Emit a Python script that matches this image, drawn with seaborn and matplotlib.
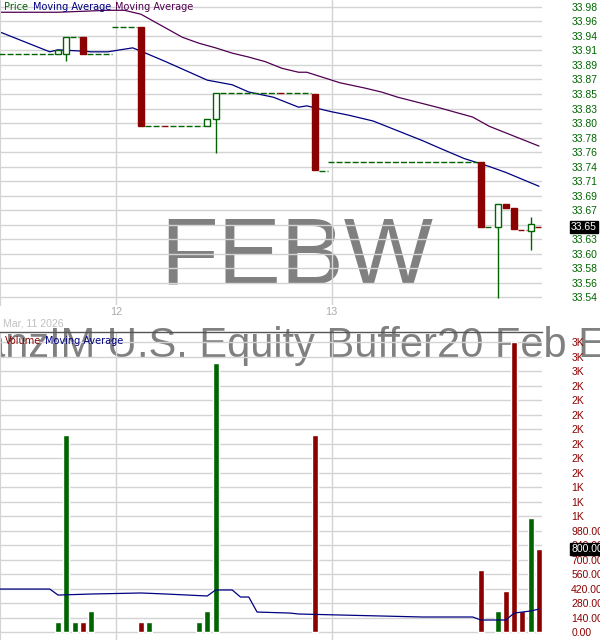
import numpy as np
import matplotlib
matplotlib.use('Agg')
import matplotlib.pyplot as plt
import matplotlib.transforms as mtransforms
from matplotlib.patches import Rectangle
import seaborn as sns

# 15分足のスロット番号 (0 = 3/11 表示左端)
day_ticks = [14, 40]
day_labels = ['12', '13']

# ローソク足
candle_slot = [7, 8, 10, 17, 25, 26, 38, 58, 60, 61, 62, 64]
candle_open = [33.909, 33.909, 33.934, 33.950, 33.799, 33.810, 33.848, 33.745, 33.646, 33.681, 33.675, 33.640]
candle_high = [33.915, 33.934, 33.934, 33.950, 33.810, 33.850, 33.848, 33.745, 33.681, 33.681, 33.675, 33.661]
candle_low = [33.909, 33.898, 33.909, 33.799, 33.799, 33.758, 33.733, 33.646, 33.539, 33.675, 33.643, 33.611]
candle_close = [33.915, 33.934, 33.909, 33.799, 33.810, 33.850, 33.733, 33.646, 33.681, 33.675, 33.643, 33.651]

# 値動きなしの区間 (破線)
flat_start = [0, 9, 11, 14, 18, 20, 21, 27, 34, 35, 39, 40, 59, 63, 65]
flat_end = [6, 9, 13, 16, 19, 20, 24, 33, 34, 37, 39, 57, 59, 63, 65]
flat_price = [33.909, 33.934, 33.909, 33.950, 33.800, 33.800, 33.800, 33.850, 33.850, 33.850,
              33.731, 33.745, 33.646, 33.642, 33.646]
flat_color = ['g', 'g', 'g', 'g', 'g', 'r', 'g', 'g', 'r', 'g', 'g', 'g', 'g', 'r', 'r']

# 移動平均 (価格)
ma_fast_slot = [0, 6, 7, 10, 11, 13, 16, 17, 20, 25, 28, 30, 33, 36, 37, 40, 42, 45, 48, 51, 53, 56, 58, 59, 61, 65]
ma_fast_value = [33.942, 33.912, 33.915, 33.913, 33.912, 33.912, 33.918, 33.913, 33.897, 33.869, 33.862,
                 33.851, 33.843, 33.828, 33.830, 33.821, 33.816, 33.807, 33.792, 33.777, 33.766,
                 33.750, 33.742, 33.738, 33.729, 33.708]
ma_slow_slot = [0, 7, 13, 15, 17, 18, 20, 22, 24, 26, 28, 30, 32, 34, 36, 37, 40, 41, 44, 46, 48, 53, 57, 59, 62, 65]
ma_slow_value = [33.972, 33.972, 33.975, 33.975, 33.969, 33.962, 33.948, 33.934, 33.925, 33.918, 33.910,
                 33.904, 33.897, 33.887, 33.881, 33.881, 33.869, 33.865, 33.857, 33.851, 33.843,
                 33.827, 33.813, 33.799, 33.784, 33.769]

# 出来高
vol_slot = [7, 8, 9, 10, 11, 17, 18, 24, 25, 26, 38, 58, 60, 61, 62, 63, 64, 65]
vol_value = [100, 1900, 100, 100, 200, 100, 100, 100, 200, 2600, 1900, 600, 200, 400, 2800, 200, 1100, 800]
vol_color = ['g', 'g', 'g', 'r', 'g', 'r', 'g', 'g', 'g', 'g', 'r', 'r', 'g', 'r', 'r', 'r', 'g', 'r']

vol_ma_slot = [0, 6, 7, 11, 17, 20, 25, 26, 28, 29, 30, 31, 35, 36, 51, 57, 58, 61, 62, 64, 65]
vol_ma_value = [415, 415, 357, 367, 377, 367, 348, 406, 406, 338, 338, 193, 183, 174, 145, 145, 116, 116,
                183, 203, 222]

price_tick_labels = ['33.54', '33.56', '33.58', '33.60', '33.63', '33.65', '33.67', '33.69', '33.71',
                     '33.74', '33.76', '33.78', '33.80', '33.83', '33.85', '33.87', '33.89', '33.91',
                     '33.94', '33.96', '33.98']
vol_tick_labels = ['0.00', '140.00', '280.00', '420.00', '560.00', '700.00', '840.00', '980.00',
                   '1K', '1K', '1K', '2K', '2K', '2K', '2K', '2K', '2K', '2K', '3K', '3K', '3K']

last_price, last_price_label = 33.646, '33.65'
last_vol, last_vol_label = 800, '800.00'

GREEN = '#006400'
RED = '#8b0000'
NAVY = '#000080'
PURPLE = '#500050'
GRID = '#d3d3d3'
cmap = {'g': GREEN, 'r': RED}

sns.set_style('white')
plt.rcParams['font.family'] = ['Liberation Sans', 'DejaVu Sans']

W, H = 600, 640
fig = plt.figure(figsize=(6, 6.4), dpi=100)
fig.patch.set_facecolor('white')
ax_p = fig.add_axes([0, 1 - 305 / H, 542 / W, 305 / H])
ax_v = fig.add_axes([0, 0, 542 / W, 308 / H])

xlim = (0, 65.36)

# ---- 価格パネル ----
ax_p.set_facecolor('none')
for s, e, p, c in zip(flat_start, flat_end, flat_price, flat_color):
    ax_p.hlines(p, s - 0.5, e + 0.5, colors=cmap[c], lw=1, linestyles=(0, (4.3, 1.5)), zorder=3)

for s, o, h, l, c in zip(candle_slot, candle_open, candle_high, candle_low, candle_close):
    if c >= o:
        ax_p.vlines(s, l, h, colors=GREEN, lw=1, zorder=3)
        ax_p.add_patch(Rectangle((s - 0.36, o), 0.72, c - o, facecolor='white',
                                 edgecolor=GREEN, lw=1, zorder=4))
    else:
        ax_p.vlines(s, l, h, colors=RED, lw=1, zorder=3)
        ax_p.add_patch(Rectangle((s - 0.36, c), 0.72, o - c, facecolor=RED,
                                 edgecolor=RED, lw=1, zorder=4))

sns.lineplot(x=ma_slow_slot, y=ma_slow_value, ax=ax_p, color=PURPLE, lw=0.9, zorder=2)
sns.lineplot(x=ma_fast_slot, y=ma_fast_value, ax=ax_p, color=NAVY, lw=0.9, zorder=2)

price_ticks = np.linspace(33.54, 33.98, len(price_tick_labels))
ax_p.set_ylim(33.5279, 33.9906)
ax_p.set_xlim(*xlim)
ax_p.yaxis.tick_right()
ax_p.set_yticks(price_ticks)
ax_p.set_yticklabels(price_tick_labels)
ax_p.set_xticks(day_ticks)
ax_p.set_xticklabels(day_labels)
ax_p.tick_params(axis='y', length=0, pad=21, labelsize=7.5, labelcolor=GREEN)
ax_p.tick_params(axis='x', length=0, pad=1.5, labelsize=7.8, labelcolor='#aaaaaa')
ax_p.grid(True, color=GRID, lw=1)
ax_p.set_axisbelow(True)
for side in ['top', 'right', 'bottom']:
    ax_p.spines[side].set_visible(False)
ax_p.spines['left'].set_color(GRID)
ax_p.set_xlabel('')
ax_p.set_ylabel('')

tr_p = mtransforms.blended_transform_factory(ax_p.transAxes, ax_p.transData)
ax_p.text(571 / 542, last_price, last_price_label, transform=tr_p, ha='left', va='center',
          fontsize=7.5, color='white', clip_on=False, zorder=10,
          bbox=dict(boxstyle='square,pad=0.12', facecolor='black', edgecolor='black'))

# ---- 出来高パネル ----
ax_v.set_facecolor('none')
ax_v.bar(vol_slot, vol_value, width=0.72, color=[cmap[c] for c in vol_color], zorder=3)
sns.lineplot(x=vol_ma_slot, y=vol_ma_value, ax=ax_v, color=NAVY, lw=0.9, zorder=4)
ax_v.set_ylim(-77, 2897)
ax_v.set_xlim(*xlim)
ax_v.yaxis.tick_right()
ax_v.set_yticks(np.arange(len(vol_tick_labels)) * 140)
ax_v.set_yticklabels(vol_tick_labels)
ax_v.set_xticks(day_ticks)
ax_v.set_xticklabels([])
ax_v.tick_params(axis='y', length=0, pad=21, labelsize=7.5, labelcolor=RED)
ax_v.tick_params(axis='x', length=0)
ax_v.grid(True, color=GRID, lw=1)
ax_v.set_axisbelow(True)
for side in ['right', 'bottom']:
    ax_v.spines[side].set_visible(False)
ax_v.spines['top'].set_color('#555555')
ax_v.spines['top'].set_linewidth(1)
ax_v.spines['left'].set_color(GRID)
ax_v.set_xlabel('')
ax_v.set_ylabel('')

tr_v = mtransforms.blended_transform_factory(ax_v.transAxes, ax_v.transData)
ax_v.text(571 / 542, last_vol, last_vol_label, transform=tr_v, ha='left', va='center',
          fontsize=7.5, color='white', clip_on=False, zorder=10,
          bbox=dict(boxstyle='square,pad=0.12', facecolor='black', edgecolor='black'))

# ---- 透かし・見出し ----
fig.text(297 / W, 1 - 284 / H, 'FEBW', fontsize=68, color='#808080', ha='center',
         va='baseline', zorder=-1)
fig.text(292 / W, 1 - 357 / H, 'AllianzIM U.S. Equity Buffer20 Feb ETF', fontsize=30,
         color='#808080', ha='center', va='baseline', zorder=-1)
fig.text(3 / W, 1 - 324 / H, 'Mar, 11 2026', fontsize=7.6, color='#c0c0c0', ha='left', va='center')

head_font = ['DejaVu Sans']
fig.text(4 / W, 1 - 7 / H, 'Price', fontsize=7, color=GREEN, family=head_font, va='center')
fig.text(33 / W, 1 - 7 / H, 'Moving Average', fontsize=7, color=NAVY, family=head_font, va='center')
fig.text(115 / W, 1 - 7 / H, 'Moving Average', fontsize=7, color=PURPLE, family=head_font, va='center')
fig.text(5 / W, 1 - 341 / H, 'Volume', fontsize=7, color=RED, family=head_font, va='center', zorder=5)
fig.text(45 / W, 1 - 341 / H, 'Moving Average', fontsize=7, color=NAVY, family=head_font, va='center', zorder=5)

fig.savefig('out.png', dpi=100, facecolor='white')
